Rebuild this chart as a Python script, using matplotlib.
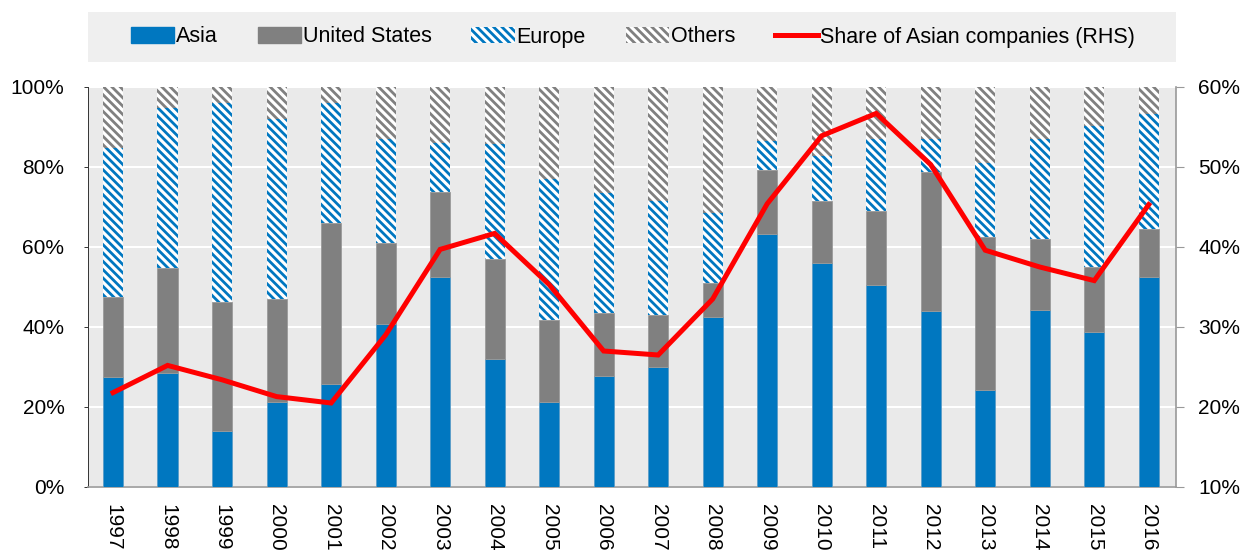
import matplotlib
matplotlib.use("Agg")
import matplotlib.pyplot as plt
import numpy as np
from matplotlib.patches import Patch, Rectangle
from matplotlib.lines import Line2D

years = [str(y) for y in range(1997, 2017)]
asia = [27.6, 28.4, 14.1, 21.3, 25.8, 40.8, 52.6, 31.9, 21.3, 27.8,
        30.1, 42.4, 63.3, 56.1, 50.6, 43.9, 24.3, 44.2, 38.8, 52.6]
us = [19.8, 26.3, 32.1, 25.8, 40.1, 20.3, 21.1, 25.0, 20.45, 15.6,
      12.8, 8.7, 15.9, 15.5, 18.4, 34.85, 38.3, 17.7, 16.3, 11.8]
europe = [37.3, 40.0, 49.9, 44.8, 30.2, 25.8, 12.2, 28.8, 35.15, 30.0,
          28.6, 17.5, 7.3, 11.15, 17.9, 8.35, 18.3, 25.0, 35.15, 28.8]
others = [round(100 - a - u - e, 2) for a, u, e in zip(asia, us, europe)]
share_asian = [21.8, 25.2, 23.4, 21.3, 20.5, 29.0, 39.7, 41.7, 35.3, 27.0,
               26.5, 33.5, 45.4, 53.9, 56.7, 50.3, 39.6, 37.5, 35.8, 45.3]

FONT = "Liberation Sans"
FS = 15
BLUE = "#0077c0"
GRAY = "#808080"
HATCH = "\\\\\\\\"
plt.rcParams["font.family"] = [FONT, "DejaVu Sans"]
plt.rcParams["hatch.linewidth"] = 2.0

fig = plt.figure(figsize=(12.42, 5.5), dpi=100)
ax = fig.add_axes([88 / 1242, 1 - 487 / 550, (1176 - 88) / 1242, 400 / 550])
ax.set_facecolor("#eaeaea")

x = np.arange(len(years))
w = 0.37
b1 = np.array(asia)
b2 = b1 + np.array(us)
b3 = b2 + np.array(europe)
ax.bar(x, asia, w, color=BLUE, edgecolor="#5a9cc8", linewidth=0.6, zorder=3)
ax.bar(x, us, w, bottom=b1, color=GRAY, edgecolor="#9a9a9a", linewidth=0.6, zorder=3)
ax.bar(x, europe, w, bottom=b2, facecolor="white", edgecolor=BLUE, hatch=HATCH,
       linewidth=0, zorder=3)
ax.bar(x, others, w, bottom=b3, facecolor="white", edgecolor=GRAY, hatch=HATCH,
       linewidth=0, zorder=3)

ax.set_ylim(0, 100)
ax.set_xlim(-0.46, 19.5)
ax.set_yticks(np.arange(0, 101, 20))
ax.set_yticklabels([f"{v}%" for v in range(0, 101, 20)], fontsize=FS)
ax.set_xticks(x)
ax.set_xticklabels(years, rotation=270, fontsize=FS)
ax.grid(axis="y", color="white", linewidth=1.5, zorder=1)
ax.set_axisbelow(True)
for s in ["top", "right"]:
    ax.spines[s].set_visible(False)
ax.spines["left"].set_color("#333333")
ax.spines["left"].set_linewidth(0.7)
ax.spines["bottom"].set_color("#999999")
ax.spines["bottom"].set_linewidth(1.2)
ax.tick_params(axis="x", length=0, pad=12)
ax.tick_params(axis="y", length=3, color="#333333", width=0.7, pad=14)

ax2 = ax.twinx()
ax2.plot(x, share_asian, color="#ff0000", linewidth=3.6, zorder=5, solid_joinstyle="miter")
ax2.set_ylim(10, 60)
ax2.set_yticks(np.arange(10, 61, 10))
ax2.set_yticklabels([f"{v}%" for v in range(10, 61, 10)], fontsize=FS)
for s in ["top", "left", "bottom"]:
    ax2.spines[s].set_visible(False)
ax2.spines["right"].set_color("#999999")
ax2.spines["right"].set_linewidth(1.2)
ax2.tick_params(axis="y", length=6, color="#999999", pad=10)

# legend background band
fig.patches.append(Rectangle((88 / 1242, 1 - 62 / 550), (1176 - 88) / 1242, 50 / 550,
                             transform=fig.transFigure, facecolor="#efefef",
                             edgecolor="none", zorder=0))
handles = [
    Patch(facecolor=BLUE, edgecolor=BLUE),
    Patch(facecolor=GRAY, edgecolor=GRAY),
    Patch(facecolor="white", edgecolor=BLUE, hatch=HATCH, linewidth=0),
    Patch(facecolor="white", edgecolor=GRAY, hatch=HATCH, linewidth=0),
    Line2D([0], [0], color="#ff0000", linewidth=3.6),
]
labels = ["Asia", "United States", "Europe", "Others", "Share of Asian companies (RHS)"]
fig.legend(handles, labels, loc="center", bbox_to_anchor=(633 / 1242, 1 - 37 / 550),
           ncol=5, frameon=False, fontsize=15.5, handlelength=2.0, handleheight=0.8,
           handletextpad=0.1, columnspacing=1.85)

fig.savefig("out.png", dpi=100)
